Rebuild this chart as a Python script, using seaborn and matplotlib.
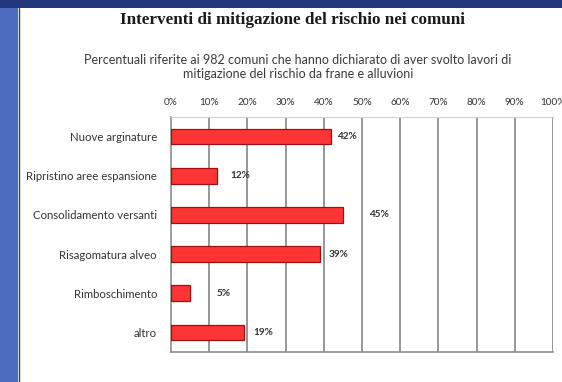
import matplotlib
matplotlib.use("Agg")
import matplotlib.pyplot as plt
import matplotlib.patches as mpatches
import seaborn as sns
import pandas as pd

# Data
categories = [
    "Nuove arginature",
    "Ripristino aree espansione",
    "Consolidamento versanti",
    "Risagomatura alveo",
    "Rimboschimento",
    "altro",
]
percent = [42, 12, 45, 39, 5, 19]
x_ticks = [0, 10, 20, 30, 40, 50, 60, 70, 80, 90, 100]
x_tick_labels = [f"{t}%" for t in x_ticks]

title = "Interventi di mitigazione del rischio nei comuni"
subtitle = ("Percentuali riferite ai 982 comuni che hanno dichiarato di aver svolto lavori di\n"
            "mitigazione del rischio da frane e alluvioni")

# Horizontal gap (points) between each bar end and its value label
label_gap_pt = [4, 10, 19, 6, 19, 7]

df = pd.DataFrame({"categoria": categories, "percentuale": percent})

sns.set_theme(style="white")
plt.rcParams["font.family"] = ["Lato", "DejaVu Sans"]

W, H = 562, 382
fig = plt.figure(figsize=(W / 100, H / 100), dpi=100, facecolor="white")

# Slide frame: blue strip on the left, dark band on top
fig.patches.append(mpatches.Rectangle((0, 0), 18 / W, 1, transform=fig.transFigure,
                                      facecolor="#4c6cbf", edgecolor="none", zorder=0))
fig.patches.append(mpatches.Rectangle((0, 1 - 8 / H), 1, 8 / H, transform=fig.transFigure,
                                      facecolor="#23377c", edgecolor="none", zorder=0))
fig.lines.append(plt.Line2D([18.5 / W, 18.5 / W], [0, 1 - 8 / H], transform=fig.transFigure,
                            color="#3a3a4a", lw=1.0))

ax = fig.add_axes([171 / W, 1 - 352 / H, (553 - 171) / W, (352 - 117) / H])

sns.barplot(data=df, x="percentuale", y="categoria", orient="h", ax=ax,
            color="#ff3535", edgecolor="#a01010", linewidth=0.9, width=0.4,
            saturation=1, zorder=3)

ax.set_xlim(0, 100)
ax.set_xticks(x_ticks)
ax.set_xticklabels(x_tick_labels)
ax.xaxis.tick_top()
ax.tick_params(axis="x", length=0, pad=7, labelsize=7.2, labelcolor="#333333")
ax.tick_params(axis="y", length=0, pad=10, labelsize=8.2, labelcolor="#333333")
ax.set_xlabel("")
ax.set_ylabel("")

for t in x_ticks[1:]:
    ax.axvline(t, color="#8f8f8f", lw=1.3, zorder=1)

for side in ["left", "bottom"]:
    ax.spines[side].set_color("#8f8f8f")
    ax.spines[side].set_linewidth(1.2)
ax.spines["top"].set_color("#d0d0d0")
ax.spines["top"].set_linewidth(0.8)
ax.spines["right"].set_visible(False)

for i, (v, gap) in enumerate(zip(percent, label_gap_pt)):
    ax.annotate(f"{v}%", xy=(v, i), xytext=(gap, 0), textcoords="offset points",
                ha="left", va="center", fontsize=7.2, fontweight="bold", color="#333333")

fig.text(292 / W, 1 - 20 / H, title, ha="center", va="center",
         fontsize=12.3, fontweight="bold", color="#1a1a1a",
         family=["Liberation Serif", "DejaVu Serif"])
fig.text(298 / W, 1 - 67 / H, subtitle, ha="center", va="center",
         fontsize=9, color="#3a3a3a", linespacing=1.2)

fig.savefig("out.png", dpi=100, facecolor="white")
